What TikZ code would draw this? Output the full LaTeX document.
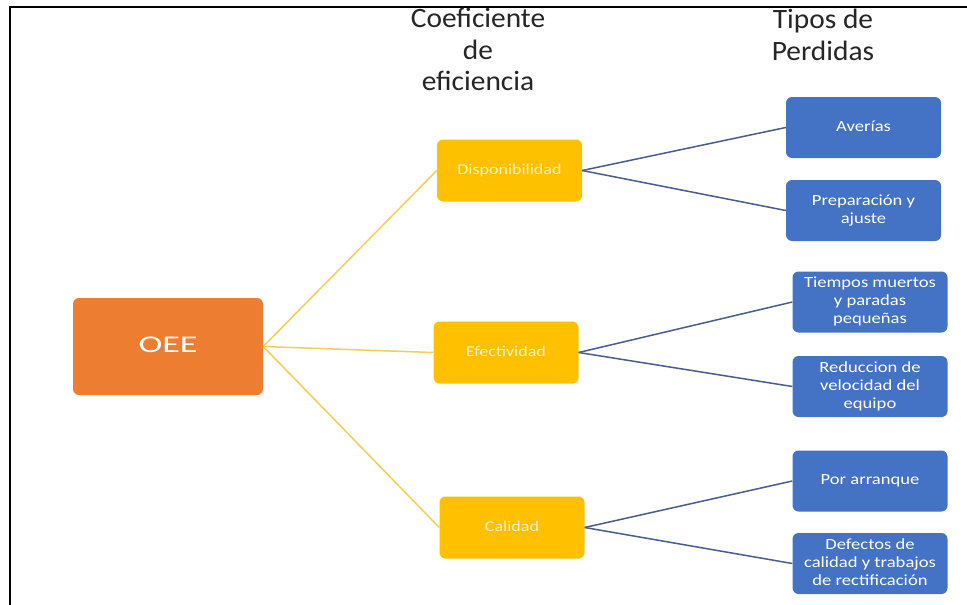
\documentclass[tikz,border=0pt]{standalone}
\usepackage{fontspec}
\setmainfont{Carlito}
\usepackage{graphicx}
\definecolor{oeeorange}{HTML}{ED7D31}
\definecolor{effyellow}{HTML}{FFC000}
\definecolor{lossblue}{HTML}{4472C4}
\definecolor{yline}{HTML}{F5CF55}
\definecolor{bline}{HTML}{4A5D8C}
\definecolor{paletext}{HTML}{FFF1C8}
\newcommand{\sx}[2]{\scalebox{#1}[1]{\begin{tabular}{@{}c@{}}#2\end{tabular}}}
\tikzset{
  box/.style={rectangle, rounded corners=6pt, inner sep=0pt, align=center},
  oeebox/.style={box, fill=oeeorange, text=white, minimum width=190pt, minimum height=97pt,
    font=\fontsize{24}{28}\selectfont},
  ybox/.style={box, fill=effyellow, text=paletext, minimum width=145pt, minimum height=62pt,
    font=\fontsize{15}{18}\selectfont},
  bbox/.style={box, fill=lossblue, text=white, minimum width=155pt, minimum height=61pt,
    font=\fontsize{15.5}{18}\selectfont},
  header/.style={inner sep=0pt, text=black!85, font=\fontsize{28}{31.5}\selectfont},
  yconn/.style={draw=yline, line width=1.5pt},
  bconn/.style={draw=bline, line width=1.5pt},
}
\begin{document}
\begin{tikzpicture}[x=1pt, y=-1pt]
\useasboundingbox (0,0) rectangle (967,605);
\fill[white] (0,0) rectangle (967,605);
% frame
\draw[black, line width=2.5pt] (10,605) -- (10,7) -- (967,7);
% headers
\node[header] (h1) at (478,53) {\sx{1.05}{Coeficiente\\de\\eficiencia}};
\node[header] (h2) at (823,38) {\sx{1.05}{Tipos de\\Perdidas}};
% main node
\node[oeebox] (oee) at (168,346.5) {\sx{1.5}{OEE}};
% coefficient nodes
\node[ybox] (disp) at (509.5,170.5) {\sx{1.2}{Disponibilidad}};
\node[ybox] (efec) at (506,352.5) {\sx{1.2}{Efectividad}};
\node[ybox] (cal) at (512,527.5) {\sx{1.2}{Calidad}};
% loss nodes
\node[bbox] (ave) at (863.5,127.5) {\sx{1.2}{Averías}};
\node[bbox] (prep) at (863.5,210.5) {\sx{1.2}{Preparación y\\ajuste}};
\node[bbox] (tiem) at (870,302) {\sx{1.2}{Tiempos muertos\\y paradas\\pequeñas}};
\node[bbox] (red) at (870,386.5) {\sx{1.2}{Reduccion de\\velocidad del\\equipo}};
\node[bbox] (arr) at (870,481) {\sx{1.2}{Por arranque}};
\node[bbox] (def) at (870,563.5) {\sx{1.2}{Defectos de\\calidad y trabajos\\de rectificación}};
% connectors
\draw[yconn] (oee.east) -- (disp.west);
\draw[yconn] (oee.east) -- (efec.west);
\draw[yconn] (oee.east) -- (cal.west);
\draw[bconn] (disp.east) -- (ave.west);
\draw[bconn] (disp.east) -- (prep.west);
\draw[bconn] (efec.east) -- (tiem.west);
\draw[bconn] (efec.east) -- (red.west);
\draw[bconn] (cal.east) -- (arr.west);
\draw[bconn] (cal.east) -- (def.west);
\end{tikzpicture}
\end{document}
